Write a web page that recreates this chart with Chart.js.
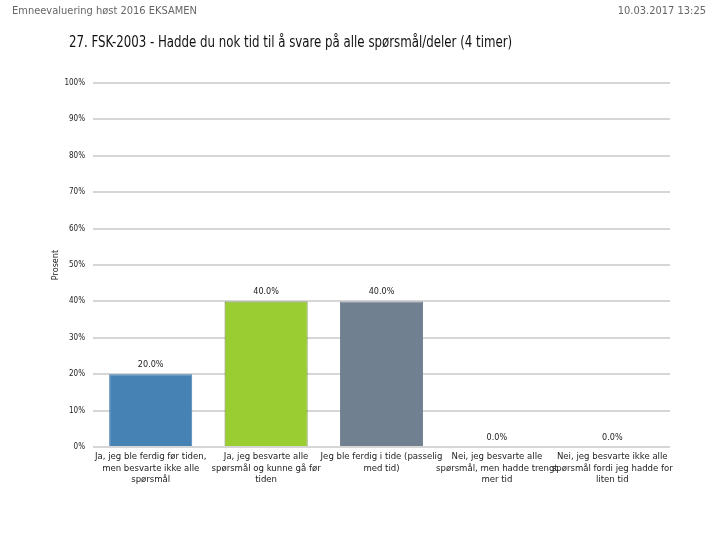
<!DOCTYPE html>
<html>
<head>
<meta charset="utf-8">
<script src="https://cdn.jsdelivr.net/npm/chart.js@4/dist/chart.umd.min.js"></script>
<style>
  body { margin: 0; background: #fff; }
  #wrap { position: relative; width: 720px; height: 540px; }
  .hdr { position: absolute; font-family: "Liberation Sans Narrow", "DejaVu Sans Condensed", sans-serif; color: #666; font-size: 11px; }
  #title { position: absolute; left: 69px; top: 32px; font-family: "Liberation Sans Narrow", "DejaVu Sans Condensed", sans-serif; font-size: 16px; color: #111; transform: scaleX(0.82); transform-origin: left top; white-space: nowrap; }
</style>
</head>
<body>
<div id="wrap">
  <div class="hdr" style="left:12px; top:4px;">Emneevaluering høst 2016 EKSAMEN</div>
  <div class="hdr" style="right:14px; top:4px;">10.03.2017 13:25</div>
  <div id="title">27. FSK-2003 - Hadde du nok tid til å svare på alle spørsmål/deler (4 timer)</div>
  <canvas id="myChart" width="720" height="540"></canvas>
</div>
<script>
const categories = [
  ["Ja, jeg ble ferdig før tiden,", "men besvarte ikke alle", "spørsmål"],
  ["Ja, jeg besvarte alle", "spørsmål og kunne gå før", "tiden"],
  ["Jeg ble ferdig i tide (passelig", "med tid)"],
  ["Nei, jeg besvarte alle", "spørsmål, men hadde trengt", "mer tid"],
  ["Nei, jeg besvarte ikke alle", "spørsmål fordi jeg hadde for", "liten tid"]
];
const values = [20.0, 40.0, 40.0, 0.0, 0.0];
const barColors = ["#4682b4", "#9acd32", "#708090", "#d2691e", "#8b4513"];
const borderColors = ["#4682b4", "#5f7f1f", "#708090", "#d2691e", "#8b4513"];
const yTicks = [0, 10, 20, 30, 40, 50, 60, 70, 80, 90, 100];

const font = "'Liberation Sans Narrow', 'DejaVu Sans Condensed', sans-serif";

// value labels above bars
const valueLabels = {
  id: "valueLabels",
  afterDatasetsDraw(chart) {
    const ctx = chart.ctx;
    const meta = chart.getDatasetMeta(0);
    ctx.save();
    ctx.font = "9px " + font;
    ctx.fillStyle = "#222";
    ctx.textAlign = "center";
    ctx.textBaseline = "bottom";
    meta.data.forEach((bar, i) => {
      ctx.fillText(values[i].toFixed(1) + "%", bar.x, bar.y - 5);
    });
    ctx.restore();
  }
};

const ctx = document.getElementById("myChart");
new Chart(ctx, {
  type: "bar",
  data: {
    labels: categories,
    datasets: [{
      data: values,
      backgroundColor: barColors,
      borderColor: borderColors,
      borderWidth: 1,
      categoryPercentage: 0.72,
      barPercentage: 1.0
    }]
  },
  options: {
    responsive: false,
    animation: false,
    layout: { padding: { left: 50, right: 50, top: 83, bottom: 0 } },
    plugins: {
      legend: { display: false },
      tooltip: { enabled: false }
    },
    scales: {
      x: {
        grid: { display: false, drawTicks: false },
        border: { display: false },
        ticks: {
          color: "#222",
          font: { family: font, size: 9.5 },
          maxRotation: 0,
          autoSkip: false,
          padding: 4
        },
        afterFit(scale) { scale.height = 93; }
      },
      y: {
        min: 0,
        max: 100,
        afterBuildTicks(scale) { scale.ticks = yTicks.map(v => ({ value: v })); },
        grid: { color: "#d6d6d6", lineWidth: 2, drawTicks: false },
        border: { display: false },
        ticks: {
          color: "#222",
          font: { family: font, size: 8 },
          padding: 8,
          callback: v => v + "%"
        },
        title: {
          display: true,
          text: "Prosent",
          color: "#222",
          font: { family: font, size: 9 },
          padding: 0
        },
        afterFit(scale) { scale.width = 43; }
      }
    }
  },
  plugins: [valueLabels]
});
</script>
</body>
</html>
